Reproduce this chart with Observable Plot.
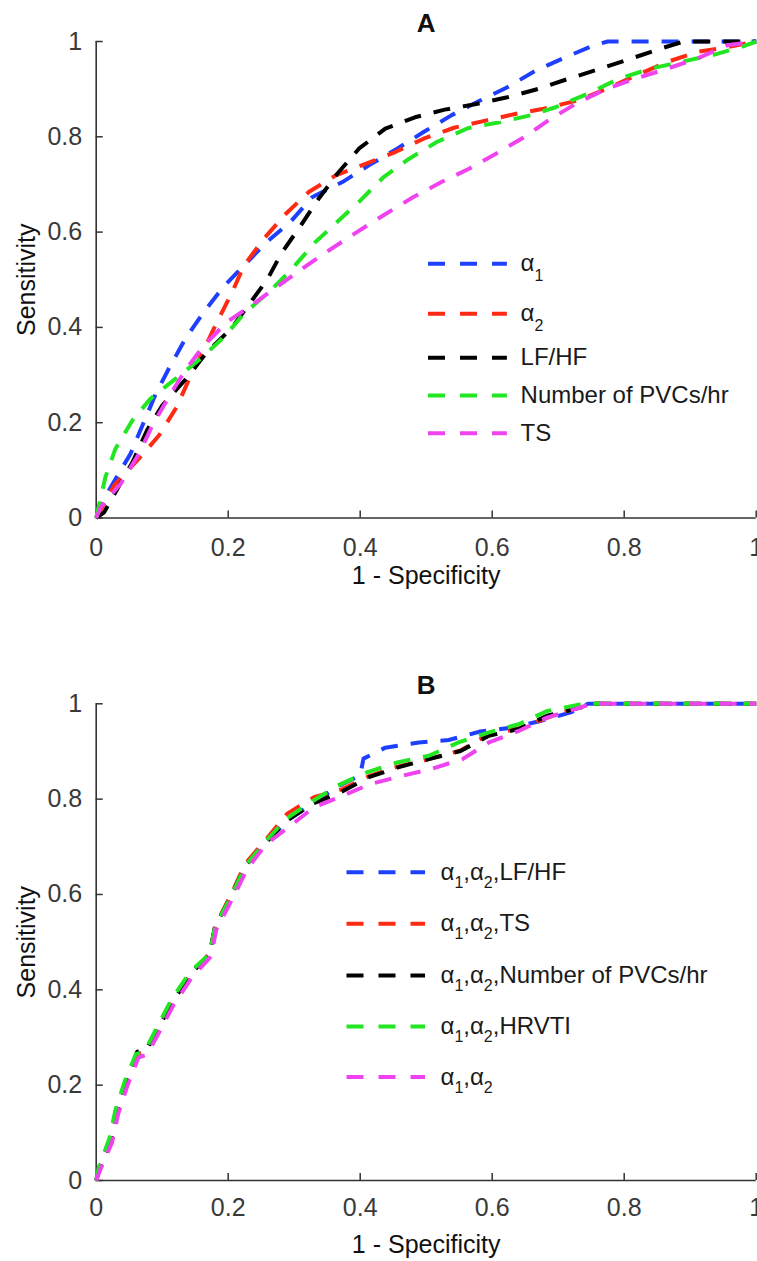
<!DOCTYPE html>
<html>
<head>
<meta charset="utf-8">
<script src="https://cdn.jsdelivr.net/npm/d3@7"></script>
<script src="https://cdn.jsdelivr.net/npm/@observablehq/plot@0.6"></script>
<style>
  body { margin: 0; background: #fff; }
  #chart svg { display: block; }
</style>
</head>
<body>
<div id="chart"></div>
<script>
// ---------- data ----------
const xTicks = [0, 0.2, 0.4, 0.6, 0.8, 1];
const yTicks = [0, 0.2, 0.4, 0.6, 0.8, 1];
const seriesColors = ["#1f3fff", "#ff2a14", "#000000", "#22e622", "#f043f0"];

// Panel A
const namesA = ["α_1", "α_2", "LF/HF", "Number of PVCs/hr", "TS"];
const rocA_alpha1 = [[0,0],[0.02,0.06],[0.052,0.135],[0.07,0.194],[0.09,0.26],[0.111,0.316],[0.135,0.376],[0.163,0.432],[0.192,0.484],[0.224,0.53],[0.258,0.579],[0.294,0.621],[0.327,0.673],[0.373,0.705],[0.413,0.74],[0.456,0.775],[0.496,0.81],[0.538,0.845],[0.58,0.875],[0.623,0.904],[0.666,0.939],[0.711,0.967],[0.754,0.992],[0.775,1],[1,1]];
const rocA_alpha2 = [[0,0],[0.027,0.068],[0.067,0.128],[0.095,0.173],[0.122,0.233],[0.14,0.289],[0.162,0.35],[0.183,0.411],[0.206,0.474],[0.224,0.53],[0.254,0.586],[0.287,0.638],[0.322,0.684],[0.363,0.719],[0.408,0.743],[0.453,0.768],[0.496,0.796],[0.542,0.819],[0.59,0.834],[0.635,0.848],[0.678,0.859],[0.729,0.876],[0.774,0.901],[0.82,0.93],[0.865,0.957],[0.91,0.978],[0.956,0.988],[1,1]];
const rocA_lfhf = [[0,0],[0.012,0.012],[0.032,0.061],[0.055,0.117],[0.077,0.184],[0.1,0.236],[0.138,0.295],[0.166,0.345],[0.206,0.4],[0.234,0.453],[0.259,0.5],[0.28,0.554],[0.31,0.614],[0.337,0.67],[0.365,0.722],[0.398,0.775],[0.438,0.817],[0.483,0.841],[0.528,0.857],[0.576,0.869],[0.623,0.883],[0.671,0.901],[0.716,0.922],[0.764,0.943],[0.81,0.964],[0.855,0.985],[0.89,1],[1,1]];
const rocA_pvc = [[0,0],[0.014,0.086],[0.029,0.145],[0.055,0.205],[0.082,0.25],[0.12,0.292],[0.158,0.334],[0.193,0.379],[0.224,0.429],[0.264,0.477],[0.296,0.522],[0.332,0.579],[0.365,0.621],[0.4,0.666],[0.435,0.715],[0.473,0.753],[0.516,0.789],[0.563,0.818],[0.613,0.831],[0.658,0.845],[0.696,0.862],[0.744,0.89],[0.792,0.922],[0.84,0.943],[0.885,0.957],[0.933,0.971],[0.976,0.988],[1,1]];
const rocA_ts = [[0,0],[0.007,0.023],[0.037,0.072],[0.065,0.135],[0.085,0.194],[0.11,0.254],[0.135,0.31],[0.163,0.362],[0.198,0.411],[0.239,0.45],[0.277,0.488],[0.315,0.526],[0.352,0.561],[0.395,0.6],[0.436,0.636],[0.48,0.673],[0.523,0.705],[0.565,0.733],[0.605,0.764],[0.648,0.799],[0.689,0.838],[0.731,0.873],[0.774,0.901],[0.817,0.922],[0.865,0.943],[0.91,0.964],[0.956,0.992],[1,1]];

// Panel B
const namesB = ["α_1,α_2,LF/HF", "α_1,α_2,TS", "α_1,α_2,Number of PVCs/hr", "α_1,α_2,HRVTI", "α_1,α_2"];
const rocB_lfhf = [[0,0],[0.005,0.025],[0.022,0.084],[0.031,0.143],[0.045,0.203],[0.062,0.265],[0.075,0.27],[0.093,0.316],[0.115,0.374],[0.144,0.434],[0.172,0.476],[0.18,0.532],[0.206,0.601],[0.226,0.66],[0.257,0.709],[0.289,0.755],[0.327,0.79],[0.365,0.826],[0.4,0.85],[0.405,0.885],[0.438,0.908],[0.489,0.919],[0.534,0.924],[0.582,0.942],[0.63,0.95],[0.673,0.964],[0.719,0.982],[0.745,1],[1,1]];
const rocB_ts = [[0,0],[0.005,0.025],[0.022,0.084],[0.031,0.143],[0.045,0.203],[0.062,0.265],[0.075,0.27],[0.093,0.316],[0.115,0.374],[0.144,0.434],[0.172,0.476],[0.18,0.532],[0.206,0.605],[0.226,0.665],[0.257,0.715],[0.289,0.769],[0.33,0.804],[0.373,0.821],[0.413,0.848],[0.456,0.868],[0.504,0.884],[0.552,0.902],[0.595,0.936],[0.64,0.948],[0.698,0.978],[0.745,1],[1,1]];
const rocB_pvc = [[0,0],[0.005,0.025],[0.022,0.084],[0.031,0.143],[0.045,0.203],[0.062,0.27],[0.075,0.272],[0.093,0.316],[0.115,0.374],[0.144,0.434],[0.172,0.476],[0.18,0.532],[0.206,0.601],[0.226,0.66],[0.257,0.709],[0.289,0.755],[0.327,0.79],[0.37,0.814],[0.413,0.846],[0.456,0.866],[0.504,0.884],[0.552,0.901],[0.595,0.933],[0.64,0.947],[0.683,0.975],[0.734,0.992],[0.75,1],[1,1]];
const rocB_hrvti = [[0,0],[0.004,0.028],[0.02,0.088],[0.029,0.147],[0.043,0.207],[0.06,0.265],[0.073,0.27],[0.091,0.318],[0.113,0.377],[0.142,0.437],[0.172,0.476],[0.18,0.532],[0.206,0.601],[0.226,0.66],[0.257,0.712],[0.289,0.76],[0.327,0.795],[0.365,0.828],[0.41,0.856],[0.456,0.877],[0.504,0.891],[0.549,0.919],[0.595,0.94],[0.64,0.957],[0.683,0.985],[0.731,0.998],[0.75,1],[1,1]];
const rocB_a1a2 = [[0,0],[0.006,0.022],[0.024,0.08],[0.033,0.138],[0.047,0.198],[0.064,0.258],[0.077,0.264],[0.095,0.31],[0.117,0.368],[0.146,0.428],[0.174,0.47],[0.182,0.527],[0.208,0.595],[0.228,0.652],[0.257,0.705],[0.294,0.744],[0.33,0.783],[0.368,0.804],[0.416,0.832],[0.464,0.849],[0.507,0.863],[0.555,0.884],[0.595,0.919],[0.64,0.943],[0.683,0.971],[0.726,0.989],[0.75,1],[1,1]];

// legend rows (data units inside each panel)
const legendRowsA = [0.5335, 0.4286, 0.3362, 0.2571, 0.178];
const legendRowsB = [0.6468, 0.5385, 0.430, 0.323, 0.2169];

// ---------- drawing ----------
const FONT = "'Liberation Sans', Arial, Helvetica, sans-serif";
const AXIS = "#333333";
const TEXT = "#262626";

function panel(cfg) {
  const plotH = cfg.height - cfg.marginTop - cfg.marginBottom;
  const plotW = 757 - cfg.marginLeft - cfg.marginRight;
  const tickLenY = 7 / plotH;
  const tickLenX = 7 / plotW;
  const marks = [
    Plot.ruleX([0], {stroke: AXIS, strokeWidth: 1.6}),
    Plot.ruleY([0], {stroke: AXIS, strokeWidth: 1.6}),
    Plot.ruleX(xTicks, {x: d => d, y1: 0, y2: tickLenY, stroke: AXIS, strokeWidth: 1.5}),
    Plot.ruleY(yTicks, {y: d => d, x1: 0, x2: tickLenX, stroke: AXIS, strokeWidth: 1.5}),
    Plot.axisX({ticks: xTicks, tickSize: 0, tickPadding: cfg.xTickPad, fontSize: 25, fill: "#3a3a3a", label: null, tickFormat: d => String(d)}),
    Plot.axisY({ticks: yTicks, tickSize: 0, tickPadding: 14, fontSize: 25, fill: "#3a3a3a", label: null, tickFormat: d => String(d)}),
    ...cfg.curves.map((c, i) => Plot.line(c, {
      x: d => d[0], y: d => d[1], stroke: seriesColors[i], strokeWidth: 4,
      strokeDasharray: "17,13", strokeLinecap: "butt", strokeLinejoin: "round", curve: "linear"
    })),
    ...cfg.names.map((n, i) => Plot.ruleY([cfg.legendRows[i]], {
      y: d => d, x1: cfg.legendX1, x2: cfg.legendX2, stroke: seriesColors[i],
      strokeWidth: 4, strokeDasharray: "17,15", strokeLinecap: "butt"
    })),
    Plot.text(cfg.names, {
      x: cfg.legendTextX, y: (d, i) => cfg.legendRows[i], text: d => d,
      textAnchor: "start", lineAnchor: "middle", fontSize: 24, fill: "#1a1a1a"
    }),
    Plot.text([cfg.title], {text: d => d, frameAnchor: "top", lineAnchor: "middle", textAnchor: "middle", dy: -18, fontSize: 26, fontWeight: "bold", fill: "#111"}),
    Plot.text(["1 - Specificity"], {text: d => d, frameAnchor: "bottom", lineAnchor: "middle", textAnchor: "middle", dy: cfg.xLabelDy, fontSize: 25, fill: "#111"}),
    Plot.text(["Sensitivity"], {text: d => d, frameAnchor: "left", lineAnchor: "middle", textAnchor: "middle", dx: -69.4, rotate: -90, fontSize: 25, fill: "#111"})
  ];
  const svg = Plot.plot({
    width: 757,
    height: cfg.height,
    marginTop: cfg.marginTop,
    marginBottom: cfg.marginBottom,
    marginLeft: cfg.marginLeft,
    marginRight: cfg.marginRight,
    x: {domain: [0, 1]},
    y: {domain: [0, 1]},
    style: {fontFamily: FONT, fontSize: "25px", background: "#fff", color: TEXT, overflow: "visible"},
    marks
  });
  applySubscripts(svg, cfg.subShift);
  return svg;
}

// turn "α_1" into α with a real subscript tspan
function applySubscripts(svg, shift) {
  const NS = "http://www.w3.org/2000/svg";
  svg.querySelectorAll("text").forEach(t => {
    const s = t.textContent;
    if (!/_\d/.test(s)) return;
    while (t.firstChild) t.removeChild(t.firstChild);
    const parts = s.split(/_(\d)/);
    let lowered = false;
    parts.forEach((p, i) => {
      if (!p) return;
      const ts = document.createElementNS(NS, "tspan");
      ts.textContent = p;
      if (i % 2 === 1) {
        ts.setAttribute("font-size", "16");
        ts.setAttribute("dy", String(shift));
        lowered = true;
      } else if (lowered) {
        ts.setAttribute("dy", String(-shift));
        lowered = false;
      }
      t.appendChild(ts);
    });
  });
}

const chart = document.getElementById("chart");
chart.appendChild(panel({
  title: "A",
  names: namesA,
  curves: [rocA_alpha1, rocA_alpha2, rocA_lfhf, rocA_pvc, rocA_ts],
  legendRows: legendRowsA,
  legendX1: 0.5035, legendX2: 0.623, legendTextX: 0.643,
  height: 630, marginTop: 41, marginBottom: 112.5, marginLeft: 95.7, marginRight: 1.3,
  xTickPad: 20, xLabelDy: 58, subShift: 10
}));
chart.appendChild(panel({
  title: "B",
  names: namesB,
  curves: [rocB_lfhf, rocB_ts, rocB_pvc, rocB_hrvti, rocB_a1a2],
  legendRows: legendRowsB,
  legendX1: 0.38, legendX2: 0.499, legendTextX: 0.5217,
  height: 631, marginTop: 73.3, marginBottom: 81, marginLeft: 95.7, marginRight: 1.3,
  xTickPad: 18, xLabelDy: 64, subShift: 8
}));
</script>
</body>
</html>
